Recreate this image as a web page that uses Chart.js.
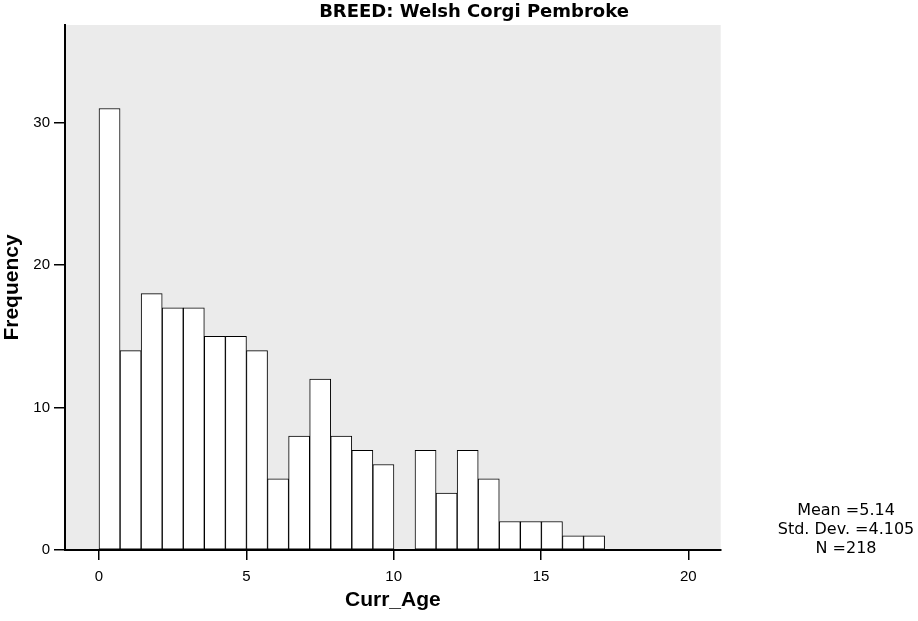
<!DOCTYPE html>
<html>
<head>
<meta charset="utf-8">
<script src="https://cdn.jsdelivr.net/npm/chart.js@4.4.0/dist/chart.umd.min.js"></script>
<style>
  html, body { margin: 0; padding: 0; background: #fff; }
</style>
</head>
<body>
<canvas id="chart" width="918" height="621"></canvas>
<script>
// histogram data
const chartTitle = 'BREED: Welsh Corgi Pembroke'
const xLabel = 'Curr_Age'
const yLabel = 'Frequency'
const binStart = 0
const binWidth = 0.715
const counts = [31, 14, 18, 17, 17, 15, 15, 14, 5, 8, 12, 8, 7, 6, 0, 7, 4, 7, 5, 2, 2, 2, 1, 1]
const xTicks = [0, 5, 10, 15, 20]
const yTicks = [0, 10, 20, 30]
const xRange = [-1.154, 21.1]
const yRange = [0, 36.86]
const statLines = ['Mean =5.14', 'Std. Dev. =4.105', 'N =218']

const sans = "'Liberation Sans', Arial, sans-serif"
const wide = "'DejaVu Sans', sans-serif"

const points = counts.map((c, i) => ({ x: binStart + (i + 0.5) * binWidth, y: c }))

const panelAndText = {
	id: 'panelAndText',
	beforeDraw(chart) {
		const { ctx, chartArea: a } = chart
		ctx.save()
		ctx.fillStyle = '#ebebeb'
		ctx.fillRect(a.left, a.top, a.right - a.left, a.bottom - a.top)
		ctx.restore()
	},
	afterDraw(chart) {
		const { ctx } = chart
		ctx.save()
		ctx.fillStyle = '#000'
		ctx.textAlign = 'center'
		ctx.textBaseline = 'middle'
		ctx.font = 'bold 18px ' + wide
		ctx.fillText(chartTitle, 474, 12)
		ctx.font = '16px ' + wide
		statLines.forEach((line, i) => {
			ctx.fillText(line, 846, 511 + i * 18.7)
		})
		ctx.restore()
	},
}

new Chart(document.getElementById('chart').getContext('2d'), {
	type: 'bar',
	data: {
		datasets: [
			{
				data: points,
				backgroundColor: '#ffffff',
				borderColor: '#000000',
				borderWidth: 1,
				borderSkipped: false,
				categoryPercentage: 1,
				barPercentage: 1,
			},
		],
	},
	options: {
		responsive: false,
		animation: false,
		devicePixelRatio: 1,
		layout: { padding: { top: 25, right: 197.3, left: 0, bottom: 0 } },
		plugins: {
			legend: { display: false },
			tooltip: { enabled: false },
			title: { display: false },
		},
		scales: {
			x: {
				type: 'linear',
				offset: false,
				min: xRange[0],
				max: xRange[1],
				afterBuildTicks: (s) => { s.ticks = xTicks.map((v) => ({ value: v })) },
				afterFit: (s) => { s.height = 71 },
				grid: { offset: false, drawOnChartArea: false, drawTicks: true, tickLength: 10, color: '#000', lineWidth: 1.5 },
				border: { display: true, color: '#000', width: 2 },
				ticks: { color: '#000', font: { family: sans, size: 15 }, padding: 8, maxRotation: 0, autoSkip: false },
				title: {
					display: true,
					text: xLabel,
					color: '#000',
					font: { family: sans, size: 21, weight: 'bold' },
					padding: { top: 0, bottom: 8 },
				},
			},
			y: {
				min: yRange[0],
				max: yRange[1],
				afterBuildTicks: (s) => { s.ticks = yTicks.map((v) => ({ value: v })) },
				afterFit: (s) => { s.width = 65 },
				grid: { drawOnChartArea: false, drawTicks: true, tickLength: 11, color: '#000', lineWidth: 1.5 },
				border: { display: true, color: '#000', width: 2 },
				ticks: { color: '#000', font: { family: sans, size: 15 }, padding: 4 },
				title: {
					display: true,
					text: yLabel,
					color: '#000',
					font: { family: sans, size: 21, weight: 'bold' },
					padding: { top: 0, bottom: 0 },
				},
			},
		},
	},
	plugins: [panelAndText],
})
</script>
</body>
</html>
